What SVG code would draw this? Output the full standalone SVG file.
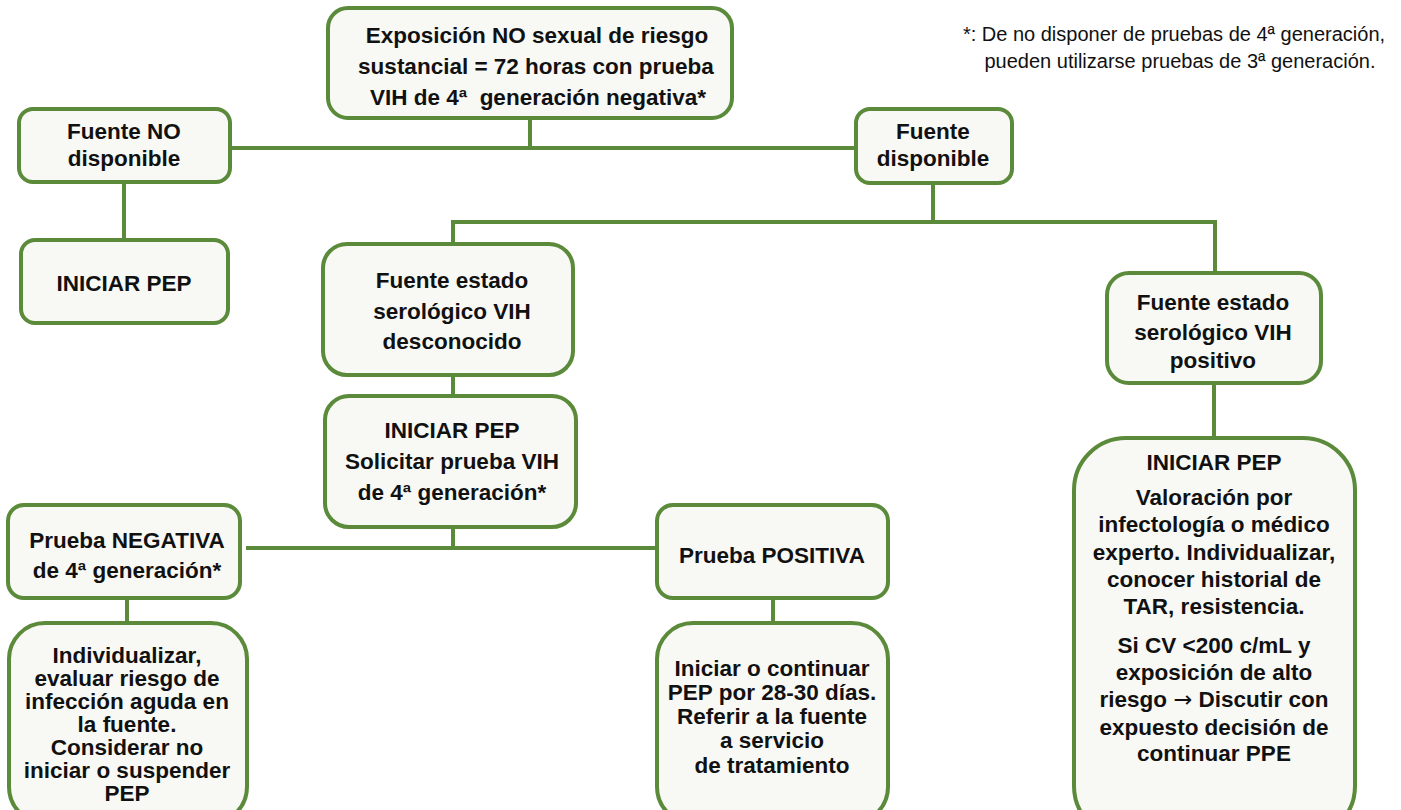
<svg xmlns="http://www.w3.org/2000/svg" width="1401" height="810" viewBox="0 0 1401 810">
<style>
.box{fill:#f8f9f5;stroke:#5a8a3a;stroke-width:4}
.conn{fill:none;stroke:#5a8a3a;stroke-width:4;stroke-linecap:square}
text{font-family:"Liberation Sans",Arial,sans-serif;font-weight:bold;font-size:22.5px;fill:#111;text-anchor:middle}
.note{font-weight:normal;font-size:20px}
.arr{font-family:"DejaVu Sans",sans-serif;font-weight:normal}
</style>
<rect width="1401" height="810" fill="#ffffff"/>
<g id="connectors">
<path class="conn" d="M530 118 V148 M230 148 H856 M124 182 V240 M933 183 V222 M453 222 H1215 M453 222 V245 M1215 222 V273 M453 375 V396 M453 527 V548 M248 548 H657 M127 598 V623 M773 598 V623 M1214 383 V438"/>
</g>
<g id="n_top"><rect class="box" x="328" y="8" width="404" height="110" rx="20"/>
<text x="537" y="43">Exposición NO sexual de riesgo</text>
<text x="536" y="74">sustancial = 72 horas con prueba</text>
<text x="538" y="105">VIH de 4ª&#160; generación negativa*</text></g>
<g id="n_note"><text class="note" x="1174" y="41">*: De no disponer de pruebas de 4ª generación,</text>
<text class="note" x="1180" y="68">pueden utilizarse pruebas de 3ª generación.</text></g>
<g id="n_nodisp"><rect class="box" x="19" y="109" width="211" height="73" rx="14"/>
<text x="124" y="139">Fuente NO</text><text x="124" y="166">disponible</text></g>
<g id="n_iniciar1"><rect class="box" x="21" y="240" width="207" height="83" rx="14"/>
<text x="124" y="291">INICIAR PEP</text></g>
<g id="n_disp"><rect class="box" x="856" y="109" width="156" height="74" rx="14"/>
<text x="933" y="139">Fuente</text><text x="933" y="166">disponible</text></g>
<g id="n_desc"><rect class="box" x="323" y="244" width="250" height="131" rx="24"/>
<text x="452" y="288">Fuente estado</text><text x="452" y="319">serológico VIH</text><text x="452" y="349">desconocido</text></g>
<g id="n_iniciar2"><rect class="box" x="325" y="396" width="251" height="131" rx="24"/>
<text x="452" y="438">INICIAR PEP</text><text x="452" y="469">Solicitar prueba VIH</text><text x="452" y="500">de 4ª generación*</text></g>
<g id="n_neg"><rect class="box" x="8" y="505" width="232" height="93" rx="16"/>
<text x="127" y="548">Prueba NEGATIVA</text><text x="127" y="578">de 4ª generación*</text></g>
<g id="n_pos"><rect class="box" x="657" y="505" width="231" height="93" rx="16"/>
<text x="772" y="563">Prueba POSITIVA</text></g>
<g id="n_indiv"><rect class="box" x="9" y="623" width="238" height="200" rx="36"/>
<text x="127" y="663">Individualizar,</text><text x="127" y="686">evaluar riesgo de</text><text x="127" y="709">infección aguda en</text><text x="127" y="732">la fuente.</text><text x="127" y="755">Considerar no</text><text x="127" y="778">iniciar o suspender</text><text x="127" y="801">PEP</text></g>
<g id="n_posact"><rect class="box" x="657" y="623" width="231" height="200" rx="36"/>
<text x="772" y="676">Iniciar o continuar</text><text x="772" y="700">PEP por 28-30 días.</text><text x="772" y="724">Referir a la fuente</text><text x="772" y="748">a servicio</text><text x="772" y="773">de tratamiento</text></g>
<g id="n_positivo"><rect class="box" x="1107" y="273" width="214" height="110" rx="22"/>
<text x="1213" y="310">Fuente estado</text><text x="1213" y="340">serológico VIH</text><text x="1213" y="368">positivo</text></g>
<g id="n_big"><rect class="box" x="1074" y="438" width="281" height="400" rx="52"/>
<text x="1214" y="470">INICIAR PEP</text>
<text x="1214" y="505">Valoración por</text><text x="1214" y="532">infectología o médico</text><text x="1214" y="560">experto. Individualizar,</text><text x="1214" y="587">conocer historial de</text><text x="1214" y="614">TAR, resistencia.</text>
<text x="1214" y="653">Si CV &lt;200 c/mL y</text><text x="1214" y="680">exposición de alto</text><text x="1214" y="707">riesgo <tspan class="arr">→</tspan> Discutir con</text><text x="1214" y="735">expuesto decisión de</text><text x="1214" y="761">continuar PPE</text></g>
</svg>
